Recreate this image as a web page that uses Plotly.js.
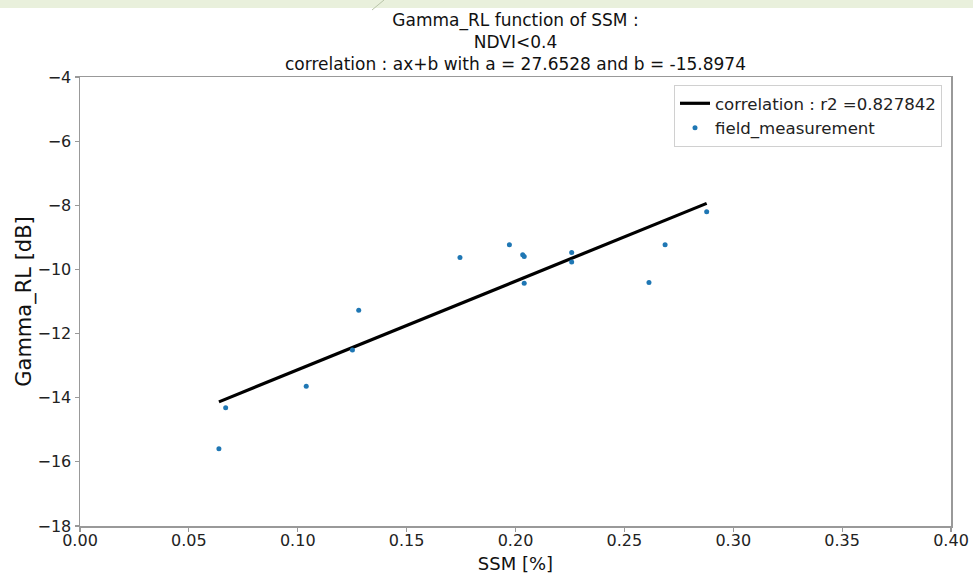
<!DOCTYPE html>
<html>
<head>
<meta charset="utf-8">
<script src="https://cdn.plot.ly/plotly-3.0.1.min.js"></script>
<style>html,body{margin:0;padding:0;background:#fff;}#chart{width:973px;height:575px;}</style>
</head>
<body>
<div id="chart"></div>
<script>
const ssm = [0.0638, 0.0669, 0.1039, 0.1251, 0.1280, 0.1745, 0.1972, 0.2033, 0.2040, 0.2040, 0.2258, 0.2258, 0.2613, 0.2687, 0.2878];
const gammaRL = [-15.59, -14.31, -13.64, -12.51, -11.27, -9.63, -9.23, -9.54, -9.60, -10.43, -9.47, -9.77, -10.41, -9.23, -8.20];
// regression line end points (a = 27.6528, b = -15.8974)
const fitX = [0.0638, 0.2878];
const fitY = [-14.13, -7.94];
const xTicks = [0, 0.05, 0.10, 0.15, 0.20, 0.25, 0.30, 0.35, 0.40];
const yTicks = [-18, -16, -14, -12, -10, -8, -6, -4];

const FONT = "DejaVu Sans, Liberation Sans, sans-serif";
const L = 80, R = 22, T = 77, B = 49, W = 973, H = 575;
const pw = W - L - R, ph = H - T - B;

const traces = [
  {x: fitX, y: fitY, mode: 'lines', name: 'correlation : r2 =0.827842',
   line: {color: '#000', width: 3.2}},
  {x: ssm, y: gammaRL, mode: 'markers', name: 'field_measurement',
   marker: {color: '#1f77b4', size: 5}}
];

const axisCommon = {
  showgrid: false, zeroline: false, showline: true, mirror: true,
  linecolor: '#999', linewidth: 1.5, ticks: 'outside', ticklen: 4,
  tickcolor: '#999', tickwidth: 1.2,
  tickfont: {family: FONT, size: 16, color: '#222'}
};

const layout = {
  width: W, height: H,
  margin: {l: L, r: R, t: T, b: B, pad: 0},
  paper_bgcolor: '#fff', plot_bgcolor: '#fff',
  font: {family: FONT, color: '#222'},
  title: {text: 'Gamma_RL function of SSM :<br>NDVI<0.4<br>correlation : ax+b with a = 27.6528 and b = -15.8974',
          font: {family: FONT, size: 17, color: '#111'},
          xref: 'paper', x: 0.5, xanchor: 'center',
          yref: 'container', y: 1 - 26 / H, yanchor: 'top'},
  xaxis: Object.assign({}, axisCommon, {
    range: [0, 0.40], tickvals: xTicks, tickformat: '.2f', ticklabelstandoff: -5,
    title: {text: 'SSM [%]', font: {family: FONT, size: 18, color: '#111'}, standoff: 8}
  }),
  yaxis: Object.assign({}, axisCommon, {
    range: [-18, -4], tickvals: yTicks,
    title: {text: 'Gamma_RL [dB]', font: {family: FONT, size: 21, color: '#111'}, standoff: 0}
  }),
  showlegend: true,
  legend: {x: (942 - L) / pw, xanchor: 'right', y: 1 - (85 - T) / ph, yanchor: 'top',
           bgcolor: '#fff', bordercolor: '#d0d0d0', borderwidth: 1,
           font: {family: FONT, size: 16.6, color: '#222'}, tracegroupgap: 0},
  shapes: [
    {type: 'rect', xref: 'paper', yref: 'paper', x0: -L / pw, x1: 1 + R / pw,
     y0: 1 + (T - 8) / ph, y1: 1 + T / ph, fillcolor: '#e9f0dc', line: {width: 0}, layer: 'below'},
    {type: 'line', xref: 'paper', yref: 'paper', x0: (372 - L) / pw, x1: (384 - L) / pw,
     y0: 1 + (T - 10) / ph, y1: 1 + T / ph, line: {color: '#b8c4a8', width: 1}}
  ]
};

Plotly.newPlot('chart', traces, layout, {displayModeBar: false, staticPlot: true});
</script>
</body>
</html>
